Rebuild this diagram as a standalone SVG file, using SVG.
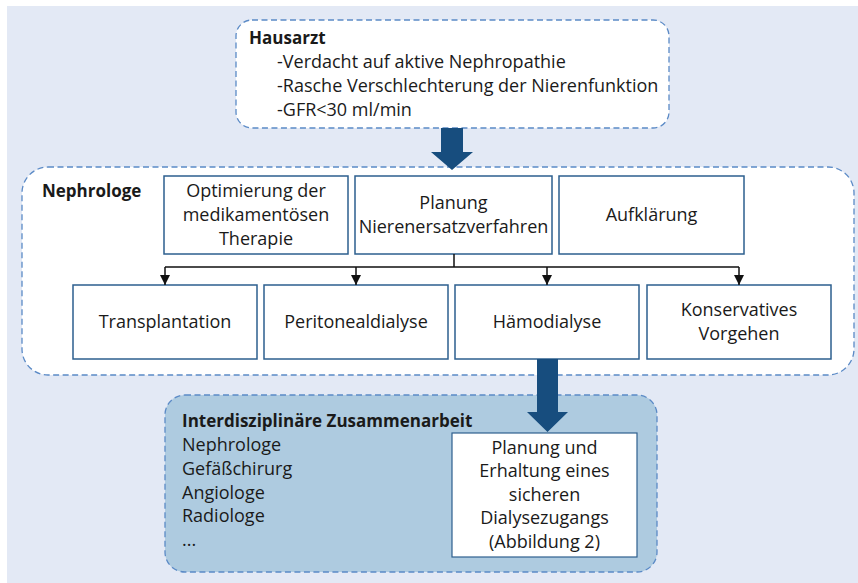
<svg xmlns="http://www.w3.org/2000/svg" width="858" height="583" viewBox="0 0 858 583">
<defs>
<style>
text{font-family:"Open Sans","Noto Sans","Liberation Sans",sans-serif;font-size:18px;fill:#1a1a1a}
.b{font-weight:bold;font-size:17px}
.c{text-anchor:middle}
.dash{fill:#fff;stroke:#5b8ac6;stroke-width:1.3;stroke-dasharray:6,3.5}
.box{fill:#fff;stroke:#2d5f8e;stroke-width:1.5}
.ln{fill:none;stroke:#111;stroke-width:1.5}
.big{fill:#174d7e}
</style>
<marker id="ah" viewBox="0 0 10 10" refX="10" refY="5" markerWidth="10" markerHeight="10" markerUnits="userSpaceOnUse" orient="auto">
<path d="M0,0 L10,5 L0,10 Z" fill="#111"/>
</marker>
</defs>
<rect x="7" y="6" width="851" height="577" fill="#e3e9f5"/>

<g id="hausarzt">
<rect class="dash" x="236" y="20" width="433" height="108" rx="16"/>
<text class="b" x="249" y="44">Hausarzt</text>
<text x="277" y="68">-Verdacht auf aktive Nephropathie</text>
<text x="277" y="92">-Rasche Verschlechterung der Nierenfunktion</text>
<text x="277" y="116">-GFR&lt;30 ml/min</text>
</g>

<g id="nephrologe">
<rect class="dash" x="22" y="167" width="832" height="208" rx="26"/>
<text class="b" x="42" y="197">Nephrologe</text>
</g>

<g id="optimierung">
<rect class="box" x="164" y="176" width="184" height="78"/>
<text class="c" x="256" y="197">Optimierung der</text>
<text class="c" x="256" y="221">medikamentösen</text>
<text class="c" x="256" y="245">Therapie</text>
</g>
<g id="planung">
<rect class="box" x="355" y="176" width="197" height="78"/>
<text class="c" x="453.5" y="209">Planung</text>
<text class="c" x="453.5" y="233">Nierenersatzverfahren</text>
</g>
<g id="aufklaerung">
<rect class="box" x="559" y="176" width="185" height="78"/>
<text class="c" x="651.5" y="221">Aufklärung</text>
</g>

<g id="transplantation">
<rect class="box" x="73" y="285" width="184" height="74"/>
<text class="c" x="165" y="328">Transplantation</text>
</g>
<g id="peritonealdialyse">
<rect class="box" x="264" y="285" width="184" height="74"/>
<text class="c" x="356" y="328">Peritonealdialyse</text>
</g>
<g id="haemodialyse">
<rect class="box" x="455" y="285" width="184" height="74"/>
<text class="c" x="547" y="328">Hämodialyse</text>
</g>
<g id="konservativ">
<rect class="box" x="647" y="285" width="184" height="74"/>
<text class="c" x="739" y="316">Konservatives</text>
<text class="c" x="739" y="340">Vorgehen</text>
</g>

<g id="interdisziplinaer">
<rect class="dash" x="165" y="395" width="492" height="177" rx="20" style="fill:#aecbe0"/>
<text class="b" x="182" y="427">Interdisziplinäre Zusammenarbeit</text>
<text x="182" y="451">Nephrologe</text>
<text x="182" y="475">Gefäßchirurg</text>
<text x="182" y="499">Angiologe</text>
<text x="182" y="522">Radiologe</text>
<text x="182" y="546">...</text>
</g>
<g id="dialysezugang">
<rect x="452" y="433" width="185" height="124" fill="#fff" stroke="#2d5f8e" stroke-width="1.2"/>
<text class="c" x="544.5" y="454">Planung und</text>
<text class="c" x="544.5" y="477">Erhaltung eines</text>
<text class="c" x="544.5" y="501">sicheren</text>
<text class="c" x="544.5" y="524">Dialysezugangs</text>
<text class="c" x="544.5" y="548">(Abbildung 2)</text>
</g>

<g id="connectors">
<path class="big" d="M441,128 H463 V152 H473 L452,170 L431,152 H441 Z"/>
<path class="big" d="M537,359 H558 V412 H568 L547.5,432 L527,412 H537 Z"/>
<path class="ln" d="M454,254 V267 M165,267 H739"/>
<path class="ln" d="M165,267 V285" marker-end="url(#ah)"/>
<path class="ln" d="M356,267 V285" marker-end="url(#ah)"/>
<path class="ln" d="M547,267 V285" marker-end="url(#ah)"/>
<path class="ln" d="M739,267 V285" marker-end="url(#ah)"/>
</g>
</svg>
